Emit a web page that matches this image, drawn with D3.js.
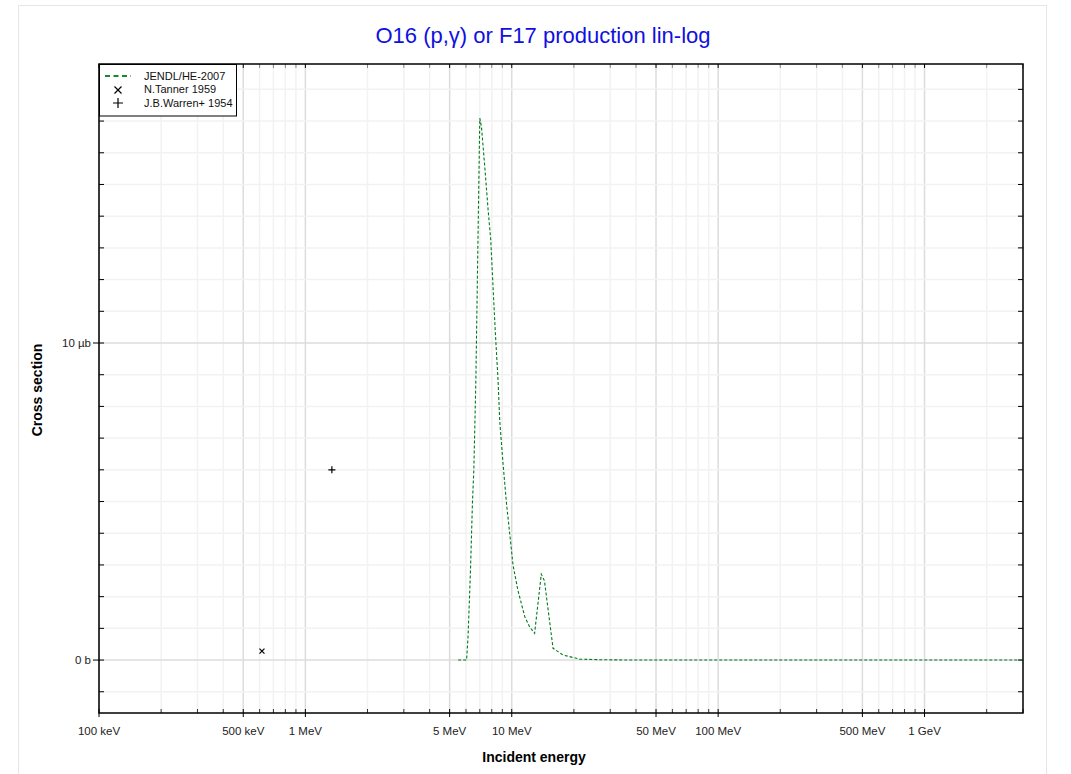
<!DOCTYPE html>
<html><head><meta charset="utf-8">
<script src="https://cdn.jsdelivr.net/npm/d3@7"></script>
<style>body{margin:0;background:#fff;font-family:"Liberation Sans",Arial,sans-serif;}</style>
</head><body><svg id="c" width="1071" height="774"></svg>
<script>
// Energies in eV, cross sections in microbarn
const jendlE = [5.5e6, 6.04e6, 6.14e6, 6.31e6, 6.45e6, 6.55e6, 6.70e6, 7.0e6, 7.13e6, 7.40e6, 7.68e6, 7.91e6, 8.11e6, 8.33e6, 8.58e6, 8.74e6, 9.07e6, 9.43e6, 9.78e6, 10.14e6, 10.7e6, 11.56e6, 12.2e6, 12.9e6, 13.9e6, 14.4e6, 15.85e6, 17.7e6, 21.3e6, 26.7e6, 40e6, 100e6, 1e9, 3e9];
const jendlXS = [0, 0, 0.73, 2.84, 4.97, 6.0, 8.83, 17.09, 16.82, 15.56, 14.2, 13.25, 11.8, 10.3, 8.83, 7.57, 6.2, 4.94, 3.97, 3.0, 2.21, 1.37, 1.05, 0.84, 2.71, 2.5, 0.37, 0.16, 0.03, 0.01, 0, 0, 0, 0];
const tannerE = [6.16e5];
const tannerXS = [0.28];
const warrenE = [1.344e6];
const warrenXS = [6.0];
const xTickVals = [1e5, 5e5, 1e6, 5e6, 1e7, 5e7, 1e8, 5e8, 1e9];
const xTickLabels = ["100 keV", "500 keV", "1 MeV", "5 MeV", "10 MeV", "50 MeV", "100 MeV", "500 MeV", "1 GeV"];
const yTickVals = [0, 10];
const yTickLabels = ["0 b", "10 µb"];
const legendNames = ["JENDL/HE-2007", "N.Tanner 1959", "J.B.Warren+ 1954"];
const titleText = "O16 (p,γ) or F17 production lin-log";

const svg = d3.select("#c");
const L = 99, R = 1023, T = 64, B = 713;
const x = d3.scaleLog().domain([1e5, 3e9]).range([L, R]);
const y = d3.scaleLinear().domain([-1.67, 18.8]).range([B, T]);

// outer frame
svg.append("rect").attr("x", 18.5).attr("y", 5.5).attr("width", 1028).attr("height", 780)
  .attr("fill", "none").attr("stroke", "#e6e6e6");

// grid
const minorX = [];
for (let p = 5; p <= 9; p++) for (let k = 1; k <= 9; k++) { const v = k * Math.pow(10, p); if (v >= 1e5 && v <= 3e9) minorX.push(v); }
const g = svg.append("g");
g.selectAll(".vx").data(minorX).enter().append("line")
  .attr("x1", d => x(d)).attr("x2", d => x(d)).attr("y1", T).attr("y2", B)
  .attr("stroke", d => xTickVals.includes(d) ? "#dcdcdc" : "#f2f2f2").attr("stroke-width", 1.5);
const minorY = d3.range(-1, 19);
g.selectAll(".hy").data(minorY).enter().append("line")
  .attr("x1", L).attr("x2", R).attr("y1", d => y(d)).attr("y2", d => y(d))
  .attr("stroke", d => yTickVals.includes(d) ? "#dcdcdc" : "#f2f2f2").attr("stroke-width", 1.5);

// ticks
const tk = svg.append("g").attr("stroke", "#000").attr("stroke-width", 1);
minorX.forEach(v => {
  const X = x(v), maj = xTickVals.includes(v);
  tk.append("line").attr("x1", X).attr("x2", X).attr("y1", B - 4).attr("y2", maj ? B + 4 : B).attr("stroke", maj ? "#000" : "#333");
  tk.append("line").attr("x1", X).attr("x2", X).attr("y1", T).attr("y2", T + 4).attr("stroke", maj ? "#000" : "#888");
});
minorY.forEach(v => {
  const Y = y(v), maj = yTickVals.includes(v);
  tk.append("line").attr("x1", maj ? L - 6 : L).attr("x2", L + 5).attr("y1", Y).attr("y2", Y);
  tk.append("line").attr("x1", R - 5).attr("x2", R).attr("y1", Y).attr("y2", Y);
});

// frame
svg.append("rect").attr("x", L).attr("y", T).attr("width", R - L).attr("height", B - T)
  .attr("fill", "none").attr("stroke", "#000").attr("stroke-width", 1.5);

// tick labels
svg.append("g").selectAll("text").data(xTickVals).enter().append("text")
  .attr("x", d => x(d)).attr("y", B + 22).attr("text-anchor", "middle")
  .attr("font-size", 11.5).attr("fill", "#222").text((d, i) => xTickLabels[i]);
svg.append("g").selectAll("text").data(yTickVals).enter().append("text")
  .attr("x", L - 8).attr("y", d => y(d) + 4).attr("text-anchor", "end")
  .attr("font-size", 11.5).attr("fill", "#222").text((d, i) => yTickLabels[i]);

// axis titles
svg.append("text").attr("x", 534).attr("y", 762).attr("text-anchor", "middle")
  .attr("font-size", 14).attr("font-weight", "bold").text("Incident energy");
svg.append("text").attr("transform", "translate(42,390) rotate(-90)")
  .attr("text-anchor", "middle").attr("font-size", 14).attr("font-weight", "bold").text("Cross section");

// title
svg.append("text").attr("x", 543).attr("y", 43).attr("text-anchor", "middle")
  .attr("font-size", 22).attr("fill", "#1010e0").text(titleText);

// curve
const line = d3.line().x(d => x(d[0])).y(d => y(d[1]));
svg.append("path").datum(jendlE.map((e, i) => [e, jendlXS[i]]))
  .attr("d", line).attr("fill", "none").attr("stroke", "#00791e").attr("stroke-width", 1.1)
  .attr("stroke-dasharray", "3,2");

// markers
function cross(sel, X, Y, s) {
  sel.append("path").attr("d", `M${X - s},${Y - s}L${X + s},${Y + s}M${X - s},${Y + s}L${X + s},${Y - s}`)
    .attr("stroke", "#000").attr("stroke-width", 1.2);
}
function plus(sel, X, Y, s) {
  sel.append("path").attr("d", `M${X - s},${Y}L${X + s},${Y}M${X},${Y - s}L${X},${Y + s}`)
    .attr("stroke", "#000").attr("stroke-width", 1.2);
}
const mk = svg.append("g");
tannerE.forEach((e, i) => cross(mk, x(e), y(tannerXS[i]), 2.5));
warrenE.forEach((e, i) => plus(mk, x(e), y(warrenXS[i]), 3.5));

// legend
const lg = svg.append("g");
lg.append("rect").attr("x", 99.5).attr("y", 64.5).attr("width", 137).attr("height", 51.5)
  .attr("fill", "#fff").attr("stroke", "#000").attr("stroke-width", 1);
lg.append("line").attr("x1", 105).attr("x2", 131).attr("y1", 76).attr("y2", 76)
  .attr("stroke", "#1a8a2a").attr("stroke-width", 2).attr("stroke-dasharray", "5,3.5");
cross(lg, 118, 90, 3.5);
plus(lg, 118, 103, 5);
lg.selectAll("text").data(legendNames).enter().append("text")
  .attr("x", 144).attr("y", (d, i) => 79.5 + i * 13.5).attr("font-size", 11).attr("fill", "#111").text(d => d);
</script></body></html>
